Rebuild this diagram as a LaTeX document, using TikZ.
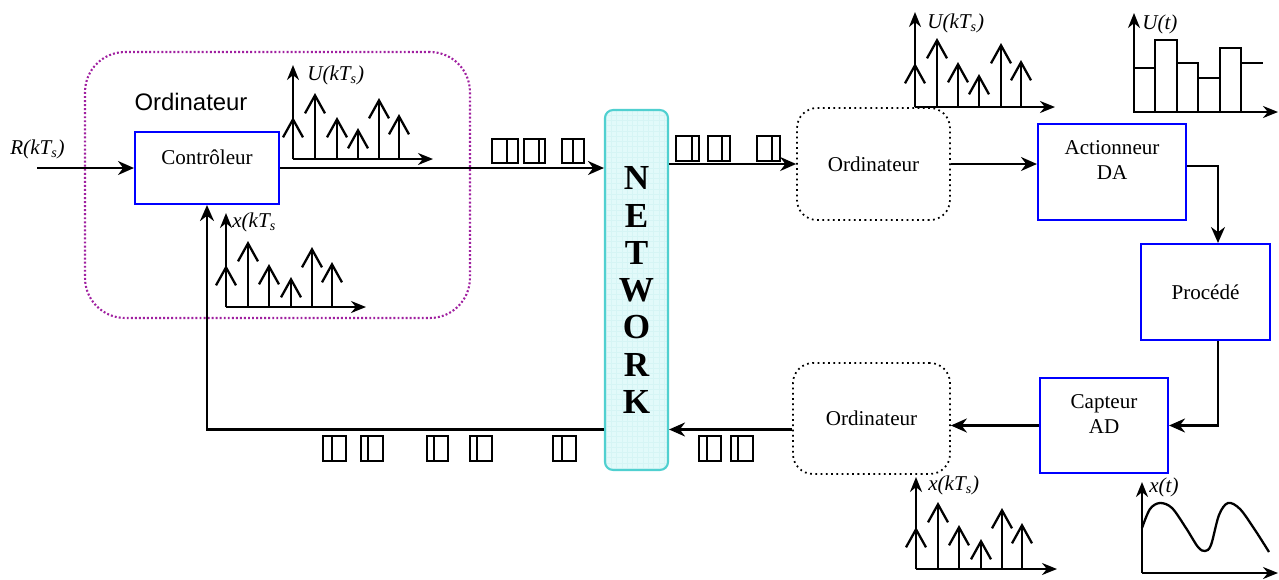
\documentclass[tikz,border=0pt]{standalone}
\usepackage{fontspec}
\setmainfont{Liberation Serif}
\newfontfamily\sansord{Liberation Sans}
\usetikzlibrary{arrows.meta,patterns}

\definecolor{bleubord}{RGB}{0,0,255}
\definecolor{violetpt}{RGB}{160,32,160}
\definecolor{reseaubord}{RGB}{80,208,208}
\definecolor{reseaufond}{RGB}{226,250,250}
\definecolor{reseaugrille}{RGB}{214,245,245}

\tikzset{
  boite/.style={draw=bleubord, line width=1.2pt, inner sep=0pt},
  ordi/.style={draw, dotted, line width=1pt, rounded corners=0.4cm, inner sep=0pt},
  fleche/.style={line width=1.3pt, -{Stealth[length=0.32cm,width=0.28cm]}},
  axe/.style={line width=1.3pt, -{Stealth[length=0.3cm,width=0.24cm]}},
  impulsion/.style={line width=1.3pt, -{Straight Barb[length=0.36cm,width=0.4cm]}},
  courbe/.style={line width=1.3pt},
  paquet/.style={line width=1.3pt},
  texte/.style={font=\fontsize{12}{13.7}\selectfont, align=center},
  signal/.style={font=\fontsize{12}{14}\selectfont\itshape, anchor=west, inner sep=0pt}
}

\begin{document}
\begin{tikzpicture}[x=0.02cm, y=-0.02cm]
\useasboundingbox (0,0) rectangle (1279,579);

% ordinateur du controleur
\node[draw=violetpt, line width=1.2pt, dash pattern=on 1.1pt off 1.2pt,
  rounded corners=0.8cm, minimum width=7.7cm, minimum height=5.32cm] (ordi) at (277.5,185) {};
\node[font=\sansord\fontsize{13.6}{16}\selectfont] (ordilabel) at (191,102) {Ordinateur};
\node[boite, minimum width=2.88cm, minimum height=1.44cm] (ctrl) at (207,168) {};
\node[texte] (ctrltxt) at (207,157) {Contrôleur};

\node[draw=reseaubord, line width=1.2pt, rounded corners=0.16cm,
  minimum width=1.26cm, minimum height=7.2cm, preaction={fill=reseaufond},
  pattern=grid, pattern color=reseaugrille,
  font=\fontsize{20}{21.2}\selectfont\bfseries, align=center] (net) at (636.5,290)
  {N\\E\\T\\W\\O\\R\\K};

\node[ordi, texte, minimum width=3.06cm, minimum height=2.24cm] (ord1) at (873.5,164) {Ordinateur};
\node[ordi, texte, minimum width=3.14cm, minimum height=2.22cm] (ord2) at (871.5,418.5) {Ordinateur};

\node[boite, minimum width=2.96cm, minimum height=1.92cm] (act) at (1112,172) {};
\node[texte] (acttxt) at (1112,160) {Actionneur\\DA};
\node[boite, texte, minimum width=2.58cm, minimum height=1.92cm] (proc) at (1205.5,292) {Procédé};
\node[boite, minimum width=2.56cm, minimum height=1.9cm] (cap) at (1104,425.5) {};
\node[texte] (captxt) at (1104,414) {Capteur\\AD};

% liaisons
\coordinate (entree) at (37,168);
\node[signal] (rlabel) at (10,149) {R(kT\textsubscript{s})};
\draw[fleche] (entree) -- (ctrl);
\draw[fleche] (ctrl.east) -- (ctrl.east -| net.west);
\draw[fleche] (ord1.west -| net.east) -- (ord1.west);
\draw[fleche] (ord1.east) -- (ord1.east -| act.west);
\draw[fleche] ([yshift=0.12cm]act.east) -| ([xshift=0.25cm]proc.north);
\draw[fleche] ([xshift=0.25cm]proc.south) |- (cap.east);
\draw[fleche] (cap.west) -- (cap.west -| ord2.east);
\coordinate (retour) at ([yshift=-0.22cm]ord2.west);
\draw[fleche] (retour) -- (retour -| net.east);
\draw[fleche] (retour -| net.west) -| (ctrl.south);

% paquets
\foreach \a/\b/\m in {491.7/518.3/507, 524/545/539, 562/584/573}
  \draw[paquet] (\a,139) rectangle (\b,163) (\m,139) -- (\m,163);
\foreach \a/\b/\m in {676/699/692, 708/730/722, 757/780/772}
  \draw[paquet] (\a,136) rectangle (\b,161) (\m,136) -- (\m,161);
\foreach \a/\b/\m in {323/346/332, 361/383/368, 427/448/434, 470/492/477, 553/576/562,
  699/721/707, 731/753/738}
  \draw[paquet] (\a,436) rectangle (\b,461) (\m,436) -- (\m,461);

% U(kTs) sortie controleur
\draw[axe] (293,159) -- (293,65);
\draw[axe] (293,159) -- (433,159);
\foreach \x/\h in {293/117, 315/93, 337/117, 358/128, 379/98, 399/114}
  \draw[impulsion] (\x,159) -- (\x,\h);
\node[signal] (u1) at (307,75) {U(kT\textsubscript{s})};

% x(kTs) entree controleur
\draw[axe] (226,307) -- (226,213);
\draw[axe] (226,307) -- (366,307);
\foreach \x/\h in {226/265, 248/241, 269/264, 291/277, 312/247, 332/262}
  \draw[impulsion] (\x,307) -- (\x,\h);
\node[signal] (x1) at (232,222) {x(kT\textsubscript{s}};

% U(kTs) recu
\draw[axe] (915,107) -- (915,12);
\draw[axe] (915,107) -- (1055,107);
\foreach \x/\h in {915/63, 937/38, 958/62, 979/74, 1001/43, 1021/60}
  \draw[impulsion] (\x,107) -- (\x,\h);
\node[signal] (u2) at (927,23) {U(kT\textsubscript{s})};

% U(t)
\draw[axe] (1134,112) -- (1134,13);
\draw[axe] (1134,112) -- (1278,112);
\foreach \a/\b/\h in {1134/1155/68, 1155/1177/40, 1177/1198/63, 1198/1220/78, 1220/1241/48}
  \draw[courbe] (\a,112) rectangle (\b,\h);
\draw[courbe] (1241,63) -- (1263,63);
\node[signal] (ut) at (1142,24) {U(t)};

% x(kTs) mesure
\draw[axe] (916,569) -- (916,477);
\draw[axe] (916,569) -- (1057,569);
\foreach \x/\h in {916/527, 938/502, 959/525, 981/539, 1002/508, 1022/523}
  \draw[impulsion] (\x,569) -- (\x,\h);
\node[signal] (x2) at (928,485) {x(kT\textsubscript{s})};

% x(t)
\draw[axe] (1142,573) -- (1142,482);
\draw[axe] (1142,573) -- (1278,573);
\draw[courbe] plot[smooth, tension=0.55] coordinates {(1142,528) (1150,509) (1160,503)
  (1172,508) (1186,528) (1198,547) (1205,551) (1211,545) (1219,515) (1228,503)
  (1240,509) (1255,530) (1269,552)};
\node[signal] (xt) at (1149,487) {x(t)};
\end{tikzpicture}
\end{document}
